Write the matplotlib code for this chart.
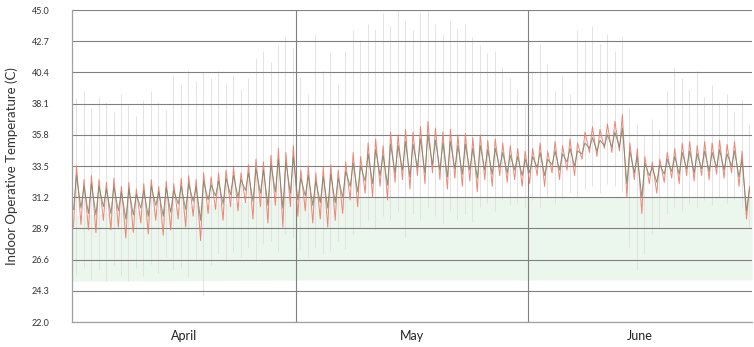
import numpy as np
import matplotlib
matplotlib.use("Agg")
import matplotlib.pyplot as plt

# ---------------- data ----------------
months = ["April", "May", "June"]
month_days = [30, 31, 30]
yticks = [22.0, 24.3, 26.6, 28.9, 31.2, 33.5, 35.8, 38.1, 40.4, 42.7, 45.0]

# red series: daily max / min
red_max = [33.5, 32.5, 32.8, 32.5, 32.3, 32.6, 32.0, 32.3, 31.8, 32.2, 32.5, 32.0, 32.4, 32.2, 32.6,
           32.8, 32.5, 33.0, 32.7, 33.0, 33.2, 33.4, 33.0, 33.6, 34.0, 33.8, 34.3, 34.8, 34.5, 35.0,
           33.2, 33.5, 33.0, 33.4, 33.6, 33.2, 33.8, 34.5, 34.2, 35.2, 35.5, 35.0, 36.0, 35.8, 36.2,
           36.0, 36.4, 36.8, 36.3, 36.0, 36.2, 35.8, 35.9, 35.6, 35.8, 35.4, 35.5, 35.2, 35.0, 34.8, 34.6,
           34.8, 35.2, 34.6, 35.3, 35.0, 35.5, 35.2, 36.0, 36.4, 36.2, 36.6, 36.8, 37.3, 35.2, 34.8,
           34.2, 33.8, 34.0, 34.5, 34.8, 35.2, 35.3, 35.0, 35.3, 35.2, 35.4, 35.1, 35.3, 34.6, 32.0]
red_min = [29.0, 29.2, 28.8, 28.6, 29.5, 28.8, 29.0, 28.2, 28.6, 29.3, 28.5, 29.5, 28.4, 28.8, 29.6,
           29.0, 29.8, 28.0, 30.0, 30.3, 29.5, 30.5, 30.2, 30.8, 29.6, 30.5, 29.3, 30.6, 29.0, 30.5,
           29.8, 30.2, 29.3, 29.6, 29.0, 29.5, 30.0, 31.0, 30.5, 31.5, 31.2, 32.0, 31.0, 32.3, 32.5,
           31.8, 32.8, 32.2, 33.0, 32.5, 31.8, 32.6, 32.0, 32.4, 31.6, 32.5, 32.0, 32.8, 32.3, 32.5, 32.0,
           32.2, 32.8, 32.0, 33.0, 32.5, 33.2, 32.8, 34.0, 34.5, 34.2, 34.8, 34.5, 34.6, 31.2, 32.5,
           30.0, 32.2, 31.5, 32.3, 32.6, 32.2, 32.8, 32.4, 32.8, 32.5, 32.9, 32.6, 33.0, 32.0, 29.6]

# dark (olive) series: daily max / min
dark_max = [32.8, 32.0, 32.2, 32.0, 31.8, 32.0, 31.6, 31.8, 31.4, 31.7, 32.0, 31.6, 31.9, 31.7, 32.0,
            32.2, 32.0, 32.4, 32.1, 32.4, 32.6, 32.8, 32.5, 33.0, 33.3, 33.2, 33.6, 34.0, 33.8, 34.2,
            32.6, 32.8, 32.4, 32.7, 32.9, 32.6, 33.1, 33.7, 33.5, 34.4, 34.7, 34.3, 35.1, 35.0, 35.3,
            35.1, 35.5, 35.8, 35.4, 35.2, 35.3, 35.0, 35.1, 34.8, 35.0, 34.7, 34.8, 34.5, 34.3, 34.2, 34.0,
            34.2, 34.5, 34.0, 34.6, 34.4, 34.8, 34.6, 35.2, 35.6, 35.4, 35.8, 36.0, 36.3, 34.6, 34.2,
            33.7, 33.4, 33.6, 34.0, 34.2, 34.5, 34.6, 34.4, 34.6, 34.5, 34.7, 34.4, 34.6, 34.0, 31.8]
dark_min = [30.3, 30.4, 30.0, 29.9, 30.5, 30.0, 30.2, 29.6, 29.9, 30.4, 29.8, 30.6, 29.8, 30.1, 30.7,
            30.3, 30.9, 29.5, 31.0, 31.3, 30.7, 31.4, 31.2, 31.7, 30.9, 31.5, 30.6, 31.6, 30.4, 31.5,
            31.0, 31.3, 30.6, 30.8, 30.4, 30.8, 31.2, 32.0, 31.6, 32.4, 32.2, 32.8, 32.1, 33.0, 33.2,
            32.7, 33.4, 33.0, 33.6, 33.2, 32.7, 33.3, 32.9, 33.2, 32.6, 33.2, 32.9, 33.4, 33.0, 33.2, 32.8,
            33.0, 33.4, 32.8, 33.6, 33.2, 33.8, 33.5, 34.4, 34.8, 34.6, 35.0, 34.9, 34.9, 32.2, 33.0,
            31.2, 32.8, 32.3, 32.9, 33.1, 32.9, 33.3, 33.0, 33.3, 33.1, 33.4, 33.2, 33.5, 32.7, 30.2]

# outdoor daily range (grey vertical lines)
out_max = [38.5, 39.0, 37.8, 38.6, 38.2, 37.5, 38.8, 38.0, 37.2, 38.4, 39.0, 38.2, 37.6, 40.2, 39.5,
           40.6, 39.8, 40.4, 40.0, 40.5, 39.6, 40.2, 39.2, 40.0, 41.5, 42.0, 41.2, 42.4, 43.0, 42.2,
           40.0, 38.8, 43.2, 40.5, 41.8, 39.5, 42.0, 43.5, 42.8, 44.0, 43.6, 44.8, 43.8, 45.0, 44.2,
           43.5, 44.8, 45.0, 44.0, 43.2, 44.2, 43.6, 44.0, 43.0, 42.4, 41.8, 42.0, 40.8, 40.0, 39.2, 38.0,
           40.5, 42.5, 41.0, 39.0, 40.2, 38.8, 43.5, 42.8, 43.8, 42.5, 43.2, 42.0, 43.0, 37.8, 36.5,
           35.8, 37.0, 36.2, 39.0, 40.8, 40.0, 39.2, 40.5, 38.6, 39.5, 38.2, 38.8, 37.5, 38.4, 36.5]
out_min = [25.5, 26.0, 25.2, 25.8, 25.0, 26.2, 25.5, 25.0, 26.0, 25.4, 26.3, 25.6, 26.8, 25.8, 26.0,
           25.3, 26.5, 24.0, 26.2, 27.0, 26.4, 27.2, 26.8, 27.5, 26.5, 27.8, 28.0, 27.2, 28.5, 28.2,
           27.3, 26.8, 27.5, 27.0, 27.2, 28.0, 27.4, 28.5, 29.0, 29.5, 28.8, 29.8, 29.5, 30.2, 28.3,
           30.0, 29.5, 30.5, 29.8, 29.3, 30.2, 29.6, 30.0, 29.4, 30.5, 30.8, 30.2, 31.0, 30.6, 30.8, 30.5,
           31.0, 30.5, 31.2, 30.8, 31.0, 31.5, 31.2, 31.8, 32.0, 31.5, 32.2, 32.0, 31.6, 27.5, 25.8,
           27.0, 28.5, 29.0, 30.0, 30.5, 30.2, 30.8, 30.5, 31.0, 30.6, 31.2, 30.8, 31.0, 30.5, 29.0]

# comfort band (green shading)
band_days = [0, 30, 61, 91]
band_lo = [25.0, 25.1, 25.1, 25.1]
band_hi = [29.8, 31.2, 31.2, 31.2]

# ---------------- plotting ----------------
plt.rcParams['font.family'] = ['Lato', 'DejaVu Sans']

fig = plt.figure(figsize=(7.54, 3.47), dpi=100)
ax = fig.add_axes([0.095, 0.072, 0.9025, 0.899])

n = len(red_max)
days = np.arange(n)

# comfort band
ax.fill_between(band_days, band_lo, band_hi, color='#ebf6ed', lw=0, zorder=0)

# outdoor daily ranges
ax.vlines(days + 0.6, out_min, out_max, color='#dedede', lw=0.6, zorder=1)

def zigzag(mins, maxs):
    t, v = [], []
    for d in range(len(mins)):
        t += [d + 0.25, d + 0.65]
        v += [mins[d], maxs[d]]
    return np.array(t), np.array(v)

tr, vr = zigzag(red_min, red_max)
td, vd = zigzag(dark_min, dark_max)
ax.plot(tr, vr, color='#ec7a68', lw=0.7, alpha=0.9, zorder=3)
ax.plot(td, vd, color='#76856a', lw=0.7, alpha=0.85, zorder=4)

# grid
for y in yticks:
    ax.axhline(y, color='#808080', lw=0.8, zorder=2)
bounds = np.cumsum([0] + month_days)
for b in bounds[1:-1]:
    ax.axvline(b, color='#808080', lw=0.8, zorder=2)

ax.set_xlim(0, bounds[-1])
ax.set_ylim(22.0, 45.0)
ax.set_yticks(yticks)
ax.set_yticklabels([f"{y:.1f}" for y in yticks], fontsize=6.5, color='#333333')
centers = [(bounds[i] + bounds[i + 1]) / 2 for i in range(3)]
ax.set_xticks(centers)
ax.set_xticklabels(months, fontsize=9, color='#222222')
ax.tick_params(axis='both', length=0)
ax.tick_params(axis='y', pad=16)
ax.tick_params(axis='x', pad=6)
ax.set_ylabel("Indoor Operative Temperature (C)", fontsize=9.5, color='#333333', labelpad=10)

for s in ['top', 'right']:
    ax.spines[s].set_visible(False)
for s in ['left', 'bottom']:
    ax.spines[s].set_color('#a0a0a0')
    ax.spines[s].set_linewidth(0.9)

fig.savefig("out.png", dpi=100)
